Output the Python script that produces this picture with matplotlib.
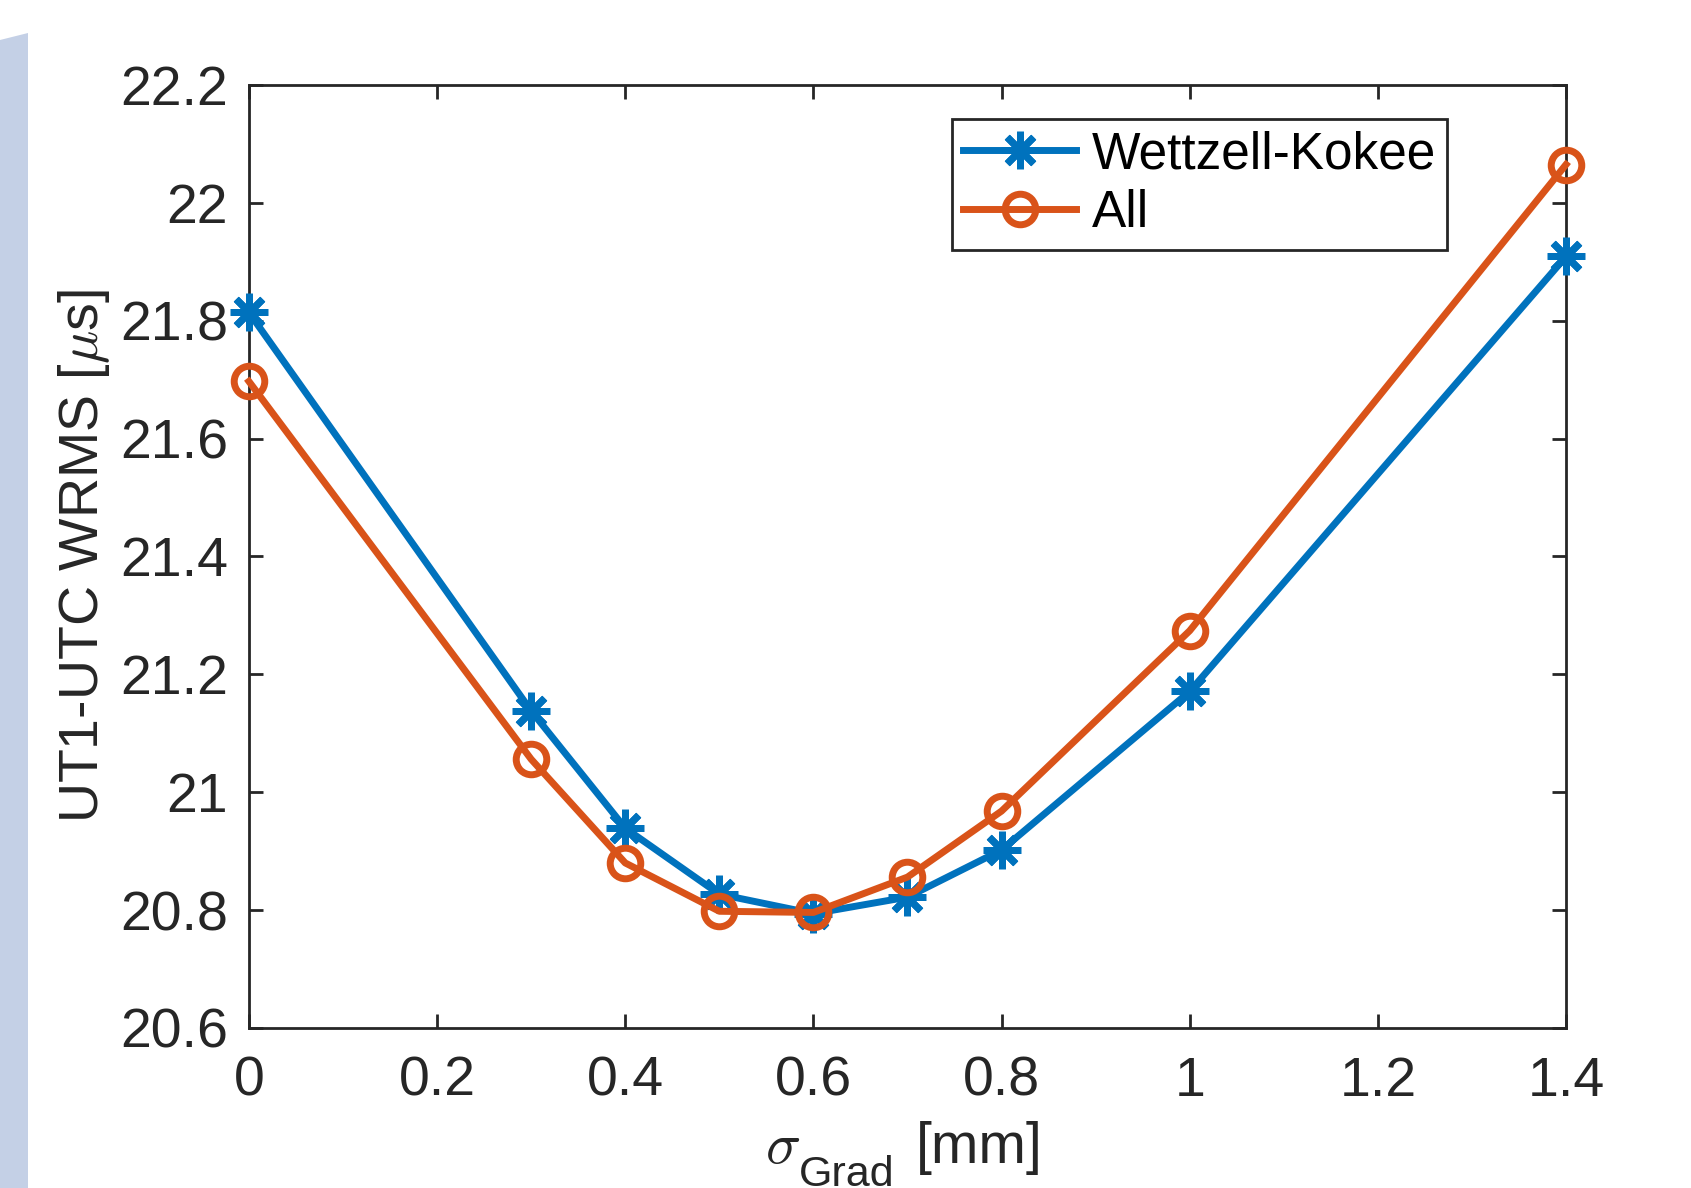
import matplotlib
matplotlib.use('Agg')
import matplotlib.pyplot as plt
from matplotlib.patches import Polygon

# data
sigma_grad = [0.0, 0.3, 0.4, 0.5, 0.6, 0.7, 0.8, 1.0, 1.4]
wrms_wettzell_kokee = [21.814, 21.138, 20.939, 20.827, 20.794, 20.822, 20.902, 21.171, 21.909]
wrms_all = [21.697, 21.056, 20.880, 20.798, 20.796, 20.856, 20.968, 21.274, 22.065]

x_ticks = [0, 0.2, 0.4, 0.6, 0.8, 1.0, 1.2, 1.4]
x_tick_labels = ['0', '0.2', '0.4', '0.6', '0.8', '1', '1.2', '1.4']
y_ticks = [20.6, 20.8, 21.0, 21.2, 21.4, 21.6, 21.8, 22.0, 22.2]
y_tick_labels = ['20.6', '20.8', '21', '21.2', '21.4', '21.6', '21.8', '22', '22.2']

plt.rcParams['font.family'] = ['Liberation Sans', 'DejaVu Sans']
plt.rcParams['mathtext.fontset'] = 'cm'

blue = '#0072BD'
orange = '#D95319'
dark = '#262626'

W, H = 1691, 1188
fig = plt.figure(figsize=(W / 100, H / 100), dpi=100)
ax = fig.add_axes([0.1472, 0.1347, 0.9261 - 0.1472, 0.9285 - 0.1347])

# light blue band at the left edge of the page
band = Polygon([[0, 1 - 40 / H], [28 / W, 1 - 33 / H], [28 / W, 0], [0, 0]],
               closed=True, transform=fig.transFigure, facecolor='#c4d0e6',
               edgecolor='none', zorder=0)
fig.patches.append(band)

ax.plot(sigma_grad, wrms_wettzell_kokee, color=blue, lw=5, marker=(8, 2, 0),
        ms=27, mew=5, label='Wettzell-Kokee', clip_on=False, zorder=3)
ax.plot(sigma_grad, wrms_all, color=orange, lw=5, marker='o', ms=22,
        mfc='none', mew=5, label='All', clip_on=False, zorder=4)

ax.set_xlim(0, 1.4)
ax.set_ylim(20.6, 22.2)
ax.set_xticks(x_ticks)
ax.set_xticklabels(x_tick_labels)
ax.set_yticks(y_ticks)
ax.set_yticklabels(y_tick_labels)
ax.tick_params(direction='in', length=10, width=2, colors=dark, labelsize=40,
               top=True, right=True, pad=15)
ax.tick_params(axis='x', pad=20)
for s in ax.spines.values():
    s.set_linewidth(2)
    s.set_color(dark)

ax.set_ylabel(r'UT1-UTC WRMS [$\mu$s]', fontsize=40, color=dark, labelpad=6)

# x label built in pieces: MATLAB-style low subscript
fig.text(765 / W, 1 - 1163 / H, r'$\sigma$', fontsize=42, color=dark,
         ha='left', va='baseline')
fig.text(799 / W, 1 - 1186 / H, 'Grad', fontsize=31, color=dark,
         ha='left', va='baseline')
fig.text(916 / W, 1 - 1163 / H, '[mm]', fontsize=41, color=dark,
         ha='left', va='baseline')

leg = ax.legend(loc='upper right', bbox_to_anchor=(0.9097, 0.964), borderaxespad=0,
                fontsize=37, fancybox=False, framealpha=1, edgecolor=dark,
                handlelength=2.2, handletextpad=0.3, labelspacing=0.2,
                borderpad=0.22)
leg.get_frame().set_linewidth(2)

fig.savefig('out.png', dpi=100)
